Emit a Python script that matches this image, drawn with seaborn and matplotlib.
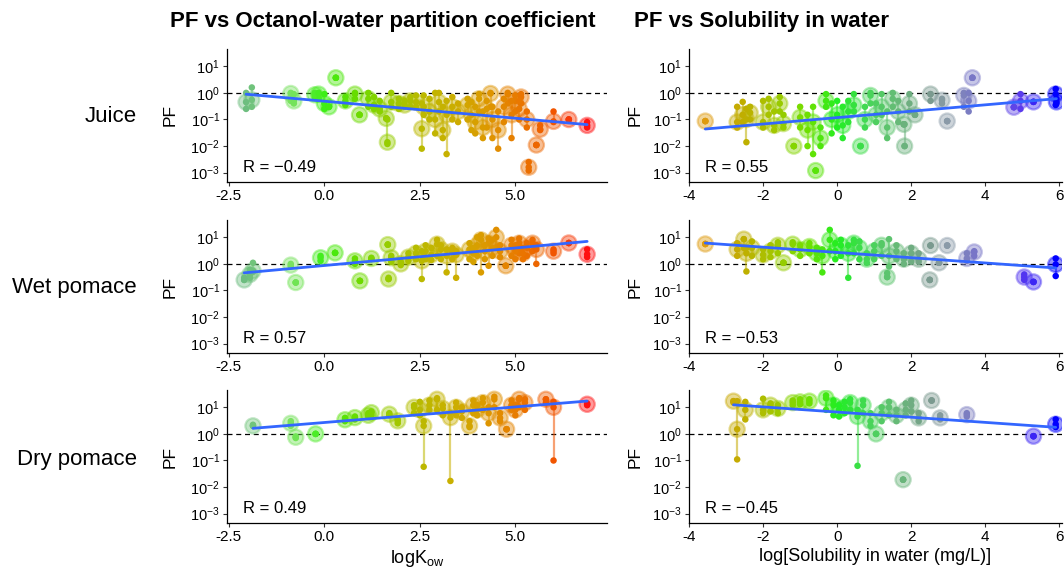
import numpy as np
import matplotlib
matplotlib.use("Agg")
import matplotlib.pyplot as plt
from matplotlib.colors import LinearSegmentedColormap, Normalize
import seaborn as sns

# ---- data: x, mean PF, lowest and highest PF per compound ----
# Juice vs logKow
juice_kow_x = [-2.05, -1.9, -0.88, -0.8, -0.25, -0.15, 0.0, 0.12, 0.3, 0.55, 0.8, 0.92, 1.15, 1.3, 1.45, 1.62, 1.65, 1.75, 1.95, 2.1, 2.25, 2.4, 2.55, 2.6, 2.75, 2.9, 3.0, 3.1, 3.2, 3.35, 3.5, 3.75, 3.85, 3.95, 4.05, 4.15, 4.25, 4.35, 4.4, 4.55, 4.7, 4.8, 4.9, 5.0, 5.1, 5.15, 5.3, 5.35, 5.55, 5.65, 6.0, 6.4, 6.88]
juice_kow_pf = [0.45, 0.55, 0.95, 0.5, 0.85, 0.9, 0.4, 0.3, 3.7, 0.5, 0.9, 0.15, 0.6, 0.35, 0.25, 0.11, 0.014, 0.45, 0.4, 0.35, 0.5, 0.45, 0.045, 0.3, 0.2, 0.1, 0.45, 0.04, 0.15, 0.3, 0.2, 0.35, 0.15, 0.08, 0.6, 0.05, 0.25, 0.95, 0.1, 0.04, 0.3, 0.9, 0.15, 0.5, 0.25, 0.7, 0.1, 0.0016, 0.011, 0.043, 0.085, 0.1, 0.06]
juice_kow_lo = [0.25, 0.3, 0.5, 0.4, 0.7, 0.6, 0.25, 0.3, 3.7, 0.35, 0.6, 0.15, 0.3, 0.25, 0.2, 0.11, 0.012, 0.3, 0.25, 0.3, 0.3, 0.3, 0.008, 0.15, 0.1, 0.03, 0.2, 0.02, 0.005, 0.1, 0.08, 0.1, 0.04, 0.03, 0.2, 0.02, 0.05, 0.3, 0.02, 0.008, 0.08, 0.4, 0.02, 0.2, 0.1, 0.4, 0.05, 0.0012, 0.011, 0.04, 0.08, 0.1, 0.05]
juice_kow_hi = [1.0, 1.6, 1.0, 0.9, 1.0, 1.0, 0.9, 0.3, 3.7, 0.7, 1.0, 0.15, 1.0, 0.7, 0.5, 0.11, 0.1, 1.0, 0.6, 0.5, 0.7, 0.8, 0.4, 0.8, 0.6, 1.0, 1.0, 0.3, 0.5, 0.7, 0.4, 0.6, 0.45, 0.3, 0.9, 0.2, 0.5, 1.0, 0.3, 0.2, 0.6, 1.0, 0.5, 0.8, 0.5, 0.9, 0.2, 0.0025, 0.011, 0.06, 0.2, 0.1, 0.08]

# Wet pomace vs logKow
wet_kow_x = [-2.1, -1.95, -1.87, -0.88, -0.75, -0.1, 0.28, 0.8, 0.93, 1.23, 1.66, 1.68, 1.75, 2.0, 2.2, 2.4, 2.55, 2.65, 2.8, 2.95, 3.05, 3.2, 3.35, 3.45, 3.8, 3.9, 4.0, 4.1, 4.2, 4.3, 4.4, 4.5, 4.6, 4.75, 4.9, 5.0, 5.1, 5.2, 5.3, 5.45, 5.55, 6.0, 6.4, 6.88]
wet_kow_pf = [0.25, 0.4, 0.55, 0.9, 0.2, 1.7, 2.6, 1.3, 0.23, 1.6, 5.3, 0.27, 1.7, 1.0, 1.8, 2.5, 1.3, 3.0, 2.2, 5.5, 3.5, 2.0, 3.0, 2.2, 3.5, 2.5, 5.0, 8.0, 3.0, 6.0, 4.0, 10.0, 3.0, 0.85, 5.0, 3.0, 6.0, 2.5, 4.0, 6.0, 3.5, 3.0, 6.1, 2.3]
wet_kow_lo = [0.25, 0.3, 0.5, 0.8, 0.2, 1.3, 2.6, 1.0, 0.23, 1.5, 5.3, 0.27, 1.2, 0.9, 1.3, 1.5, 0.27, 1.5, 1.4, 2.0, 1.5, 0.48, 1.5, 0.3, 1.5, 1.2, 2.0, 0.48, 1.5, 0.85, 2.0, 4.0, 1.8, 0.85, 2.0, 1.5, 2.5, 1.5, 2.0, 3.0, 1.0, 2.5, 6.1, 1.8]
wet_kow_hi = [0.3, 0.6, 1.1, 1.0, 0.2, 2.0, 2.6, 1.6, 0.23, 1.7, 5.3, 0.3, 2.0, 1.2, 2.5, 4.0, 3.0, 5.0, 4.0, 8.0, 5.0, 3.5, 4.0, 3.0, 6.0, 4.0, 10.0, 12.0, 5.0, 9.0, 8.0, 19.0, 5.0, 0.85, 8.0, 5.0, 9.0, 4.0, 6.0, 8.0, 5.0, 3.5, 6.1, 3.5]

# Dry pomace vs logKow
dry_kow_x = [-1.87, -0.88, -0.75, -0.23, 0.54, 0.8, 1.15, 1.23, 1.7, 1.92, 2.35, 2.5, 2.6, 2.75, 2.95, 3.1, 3.3, 3.45, 3.6, 3.8, 3.9, 4.0, 4.15, 4.3, 4.45, 4.6, 4.77, 4.9, 5.0, 5.1, 5.25, 5.8, 6.0, 6.88]
dry_kow_pf = [2.0, 2.5, 0.75, 1.0, 3.4, 4.1, 5.0, 6.3, 5.5, 3.1, 10.0, 8.0, 2.0, 12.0, 20.0, 9.0, 4.1, 10.0, 7.0, 2.0, 12.0, 8.0, 15.0, 6.0, 20.0, 4.0, 1.5, 12.0, 8.0, 20.0, 15.0, 20.0, 10.0, 13.0]
dry_kow_lo = [2.0, 2.0, 0.7, 1.0, 3.0, 3.5, 4.5, 5.0, 5.0, 2.5, 6.0, 5.0, 0.058, 8.0, 8.0, 5.0, 0.017, 5.0, 4.0, 1.8, 6.0, 5.0, 8.0, 2.5, 10.0, 3.0, 1.5, 8.0, 5.0, 10.0, 8.0, 15.0, 0.1, 12.0]
dry_kow_hi = [2.2, 3.0, 0.8, 1.0, 4.0, 4.5, 6.0, 7.0, 6.0, 3.5, 12.0, 16.0, 3.0, 18.0, 22.0, 12.0, 6.0, 15.0, 10.0, 3.0, 18.0, 12.0, 22.0, 10.0, 25.0, 6.0, 1.5, 18.0, 12.0, 22.0, 20.0, 20.0, 16.0, 14.0]

# Juice vs solubility
juice_sol_x = [-3.56, -2.7, -2.55, -2.45, -2.35, -2.0, -1.85, -1.7, -1.55, -1.45, -1.17, -1.0, -0.8, -0.65, -0.58, -0.45, -0.3, -0.15, 0.0, 0.15, 0.3, 0.45, 0.63, 0.75, 0.9, 1.05, 1.2, 1.35, 1.5, 1.65, 1.8, 1.82, 1.95, 2.1, 2.52, 2.83, 2.97, 3.42, 3.55, 3.65, 4.77, 4.95, 5.3, 5.9, 5.92]
juice_sol_pf = [0.087, 0.08, 0.15, 0.1, 0.18, 0.08, 0.3, 0.06, 0.4, 0.07, 0.01, 0.12, 0.04, 0.08, 0.0012, 0.02, 0.5, 0.1, 0.15, 0.06, 0.2, 0.35, 0.01, 0.1, 0.8, 0.15, 0.3, 0.05, 0.6, 0.2, 0.066, 0.01, 0.4, 0.15, 0.9, 0.53, 0.087, 0.8, 0.5, 3.7, 0.29, 0.5, 0.46, 0.9, 0.46]
juice_sol_lo = [0.087, 0.05, 0.08, 0.014, 0.1, 0.05, 0.15, 0.04, 0.2, 0.05, 0.01, 0.05, 0.01, 0.005, 0.0012, 0.01, 0.3, 0.03, 0.05, 0.02, 0.08, 0.2, 0.01, 0.05, 0.4, 0.08, 0.15, 0.02, 0.3, 0.08, 0.066, 0.01, 0.2, 0.15, 0.5, 0.4, 0.087, 0.3, 0.2, 3.7, 0.29, 0.25, 0.46, 0.35, 0.4]
juice_sol_hi = [0.087, 0.3, 0.46, 0.25, 0.3, 0.5, 0.6, 0.2, 0.7, 0.15, 0.01, 0.3, 0.15, 0.3, 0.0012, 0.05, 0.9, 0.4, 0.5, 0.3, 0.5, 0.9, 0.01, 0.3, 1.0, 0.4, 0.9, 0.2, 1.0, 0.5, 0.066, 0.066, 0.9, 0.15, 0.9, 0.6, 0.087, 1.0, 1.0, 3.7, 0.29, 0.9, 0.46, 1.4, 0.6]

# Wet pomace vs solubility
wet_sol_x = [-3.56, -2.7, -2.52, -2.45, -2.3, -2.0, -1.8, -1.6, -1.45, -1.2, -1.0, -0.75, -0.55, -0.4, -0.2, -0.05, 0.1, 0.3, 0.45, 0.6, 0.8, 1.0, 1.2, 1.35, 1.4, 1.6, 1.8, 2.0, 2.2, 2.5, 2.52, 2.75, 2.97, 3.5, 3.7, 5.05, 5.3, 5.9]
wet_sol_pf = [5.6, 3.5, 8.5, 2.5, 4.0, 2.2, 3.0, 5.0, 1.1, 5.5, 3.5, 4.5, 2.5, 2.0, 8.0, 3.0, 5.0, 2.5, 6.0, 4.0, 1.5, 3.0, 5.0, 0.32, 2.0, 3.0, 1.5, 2.5, 1.5, 0.25, 4.9, 1.1, 4.9, 1.6, 2.8, 0.32, 0.21, 0.95]
wet_sol_lo = [5.6, 2.0, 4.0, 0.52, 2.0, 1.5, 1.8, 2.5, 1.1, 3.0, 2.0, 2.5, 1.5, 0.48, 3.0, 1.5, 2.0, 0.3, 2.5, 1.5, 1.1, 1.5, 2.0, 0.32, 0.8, 1.5, 1.0, 1.2, 1.2, 0.25, 4.9, 1.1, 4.9, 1.3, 2.0, 0.25, 0.21, 0.35]
wet_sol_hi = [5.6, 6.0, 8.5, 4.0, 7.0, 3.5, 5.0, 6.5, 1.1, 6.5, 5.0, 6.0, 4.0, 3.5, 19.0, 6.0, 8.0, 5.0, 8.0, 7.0, 2.5, 5.0, 6.0, 0.45, 8.5, 5.0, 2.5, 4.0, 2.5, 0.25, 4.9, 1.1, 4.9, 2.5, 3.0, 0.4, 0.21, 1.6]

# Dry pomace vs solubility
dry_sol_x = [-2.8, -2.7, -2.48, -2.0, -1.8, -1.6, -1.2, -1.0, -0.75, -0.3, -0.1, 0.05, 0.2, 0.35, 0.55, 0.7, 0.9, 1.05, 1.2, 1.4, 1.6, 1.78, 1.85, 2.0, 2.2, 2.55, 2.78, 3.5, 5.3, 5.9]
dry_sol_pf = [17.0, 1.5, 8.0, 8.0, 12.0, 9.0, 15.0, 16.0, 17.0, 22.0, 12.0, 8.0, 10.0, 15.0, 4.5, 12.0, 3.0, 1.0, 6.0, 10.0, 5.0, 0.019, 8.0, 12.0, 4.0, 18.0, 4.0, 5.3, 0.82, 2.3]
dry_sol_lo = [15.0, 0.11, 3.5, 6.0, 7.0, 6.0, 12.0, 13.0, 14.0, 8.0, 5.0, 4.5, 6.0, 8.0, 0.063, 6.0, 2.0, 1.0, 3.0, 5.0, 3.0, 0.019, 5.0, 7.0, 3.0, 18.0, 3.5, 4.5, 0.82, 1.8]
dry_sol_hi = [17.0, 17.0, 16.0, 21.0, 14.0, 12.0, 18.0, 20.0, 20.0, 28.0, 18.0, 12.0, 16.0, 20.0, 8.0, 18.0, 6.0, 1.0, 10.0, 16.0, 8.0, 0.019, 14.0, 18.0, 6.0, 18.0, 5.0, 6.0, 0.82, 3.5]

r_labels = [["R = \u22120.49", "R = 0.55"],
            ["R = 0.57", "R = \u22120.53"],
            ["R = 0.49", "R = \u22120.45"]]
row_names = ["Juice", "Wet pomace", "Dry pomace"]
col_titles = ["PF vs Octanol-water partition coefficient", "PF vs Solubility in water"]

# colour ramps (value, colour)
kow_stops = [(-2.1, "#6dbd80"), (-1.0, "#80e068"), (0.0, "#3cef14"), (0.8, "#66dd00"),
             (1.7, "#99cc00"), (2.6, "#bdb800"), (3.3, "#c9b000"), (4.2, "#dc9a00"),
             (5.2, "#ea7400"), (6.1, "#f25200"), (6.9, "#ff1010")]
sol_stops = [(-3.6, "#e09a10"), (-2.6, "#c2ad00"), (-1.7, "#a2c700"), (-0.8, "#6ee000"),
             (0.0, "#22ee22"), (0.8, "#44d855"), (1.6, "#66bb77"), (2.5, "#7a9a8e"),
             (3.0, "#8a9aa8"), (3.6, "#7a7ac4"), (5.0, "#5a3aee"), (5.9, "#0000ff")]


def make_cmap(stops):
    lo, hi = stops[0][0], stops[-1][0]
    cmap = LinearSegmentedColormap.from_list(
        "ramp", [((v - lo) / (hi - lo), c) for v, c in stops])
    return cmap, Normalize(lo, hi)


sns.set_theme(style="ticks")
plt.rcParams["font.family"] = ["Liberation Sans", "DejaVu Sans"]
plt.rcParams["mathtext.fontset"] = "custom"
plt.rcParams["mathtext.rm"] = "Liberation Sans"
plt.rcParams["mathtext.it"] = "Liberation Sans:italic"
plt.rcParams["text.color"] = "black"
plt.rcParams["axes.labelcolor"] = "black"
plt.rcParams["xtick.color"] = "black"
plt.rcParams["ytick.color"] = "black"

W, H = 1064, 572
fig = plt.figure(figsize=(W / 100, H / 100), dpi=100)

panels = [[(juice_kow_x, juice_kow_pf, juice_kow_lo, juice_kow_hi),
           (juice_sol_x, juice_sol_pf, juice_sol_lo, juice_sol_hi)],
          [(wet_kow_x, wet_kow_pf, wet_kow_lo, wet_kow_hi),
           (wet_sol_x, wet_sol_pf, wet_sol_lo, wet_sol_hi)],
          [(dry_kow_x, dry_kow_pf, dry_kow_lo, dry_kow_hi),
           (dry_sol_x, dry_sol_pf, dry_sol_lo, dry_sol_hi)]]

col_left = [227, 689]
col_width = [380, 373]
row_top = [49, 220, 390]
row_h = 133
xlims = [(-2.55, 7.4), (-4.0, 6.07)]
xticks = [[-2.5, 0.0, 2.5, 5.0], [-4, -2, 0, 2, 4, 6]]
xticklabels = [["-2.5", "0.0", "2.5", "5.0"], ["-4", "-2", "0", "2", "4", "6"]]
xlabels = [r"log$\mathregular{K_{ow}}$", "log[Solubility in water (mg/L)]"]
cmaps = [make_cmap(kow_stops), make_cmap(sol_stops)]
yticks = [1e-3, 1e-2, 1e-1, 1e0, 1e1]
yticklabels = [r"$\mathregular{10^{-3}}$", r"$\mathregular{10^{-2}}$",
               r"$\mathregular{10^{-1}}$", r"$\mathregular{10^{0}}$", r"$\mathregular{10^{1}}$"]

for r in range(3):
    for c in range(2):
        x, pf, lo, hi = [np.asarray(a, dtype=float) for a in panels[r][c]]
        cmap, norm = cmaps[c]
        ax = fig.add_axes([col_left[c] / W, 1 - (row_top[r] + row_h) / H,
                           col_width[c] / W, row_h / H])
        ax.set_yscale("log")
        cols = cmap(norm(x))

        ax.axhline(1, color="black", ls=(0, (4, 3)), lw=0.9, zorder=1)
        ax.vlines(x, lo, hi, colors=cols, alpha=0.55, lw=1.6, zorder=2)
        sns.scatterplot(x=x, y=pf, hue=x, palette=cmap, hue_norm=norm, s=120,
                        alpha=0.42, linewidth=1.6, edgecolor=cols, legend=False,
                        ax=ax, zorder=3)
        for yy in (lo, pf, hi):
            sns.scatterplot(x=x, y=yy, hue=x, palette=cmap, hue_norm=norm, s=22,
                            linewidth=0, legend=False, ax=ax, zorder=4)

        # least squares fit of log10(PF) on x
        b1, b0 = np.polyfit(x, np.log10(pf), 1)
        fx = np.array([x.min(), x.max()])
        ax.plot(fx, 10 ** (b0 + b1 * fx), color="#3366ff", lw=2, zorder=5)

        ax.set_xlim(*xlims[c])
        ax.set_ylim(10 ** -3.35, 10 ** 1.65)
        ax.set_yticks(yticks)
        ax.set_yticklabels(yticklabels, fontsize=10.5)
        ax.yaxis.set_minor_locator(matplotlib.ticker.NullLocator())
        ax.set_xticks(xticks[c])
        ax.set_xticklabels(xticklabels[c], fontsize=11)
        ax.tick_params(length=3, width=0.8, color="#333333", pad=2, labelcolor="black")
        for s in ("left", "bottom"):
            ax.spines[s].set_linewidth(0.9)
            ax.spines[s].set_color("black")
        sns.despine(ax=ax)

        ax.set_ylabel("PF", fontsize=12.5)
        ax.yaxis.set_label_coords(-46 / col_width[c] if c else -49 / col_width[c], 0.5)
        ax.set_xlabel(xlabels[c] if r == 2 else "", fontsize=13, labelpad=3)
        ax.text(0.043, 0.11, r_labels[r][c], transform=ax.transAxes,
                fontsize=12, ha="left", va="center")

title_x = [170, 634]
for c in range(2):
    fig.text(title_x[c] / W, 1 - 22 / H, col_titles[c], fontsize=16,
             fontweight="bold", ha="left", va="center")
row_y = [117, 288, 459]
for r in range(3):
    fig.text(137 / W, 1 - row_y[r] / H, row_names[r], fontsize=16,
             ha="right", va="center")

fig.savefig("out.png", dpi=100)
